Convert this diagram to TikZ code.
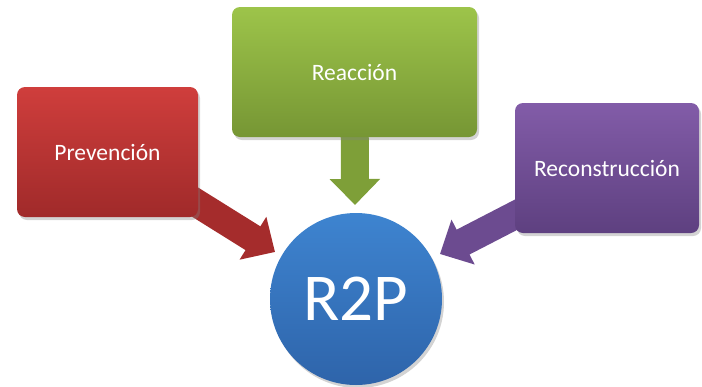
\documentclass[tikz,border=0pt]{standalone}
\usepackage{fontspec}
\setmainfont{Carlito}
\usepackage{tikz}
\usetikzlibrary{arrows.meta, shadows, backgrounds}
\definecolor{prevtop}{RGB}{207, 62, 60}
\definecolor{prevbot}{RGB}{160, 42, 42}
\definecolor{reactop}{RGB}{157, 196, 74}
\definecolor{reacbot}{RGB}{118, 150, 52}
\definecolor{recotop}{RGB}{130, 92, 168}
\definecolor{recobot}{RGB}{94, 64, 128}
\definecolor{r2ptop}{RGB}{62, 132, 208}
\definecolor{r2pbot}{RGB}{46, 100, 170}

\begin{document}
\begin{tikzpicture}[x=1pt, y=-1pt,
    phase/.style={rounded corners=8pt, minimum height=130pt,
        text=white, font=\fontsize{23.5}{26}\selectfont,
        drop shadow={opacity=0.35, shadow xshift=2pt, shadow yshift=-3pt}},
    blockarrow/.style={line width=28pt,
        -{Triangle[width=49pt, length=26pt]}}]
    \useasboundingbox (0,0) rectangle (702,386);
    % the three phases
    \node[phase, minimum width=181pt, top color=prevtop, bottom color=prevbot]
        (prev) at (107.5,152) {Prevención};
    \node[phase, minimum width=245pt, top color=reactop, bottom color=reacbot]
        (reac) at (354.5,72) {Reacción};
    \node[phase, minimum width=184pt, top color=recotop, bottom color=recobot]
        (reco) at (607,168) {Reconstrucción};
    % centre
    \node[circle, minimum size=172pt, inner sep=0pt, text=white,
        top color=r2ptop, bottom color=r2pbot,
        drop shadow={opacity=0.35, shadow xshift=2pt, shadow yshift=-3pt},
        font=\fontsize{67}{70}\selectfont]
        (r2p) at (356,299) {R2P};
    \coordinate (prevtip) at (275,252);
    \coordinate (reactip) at (355,205);
    \coordinate (recotip) at (440,254);
    \coordinate (prevfrom) at (150,174);
    \coordinate (recofrom) at (560,192);
    \begin{pgfonlayer}{background}
        \draw[blockarrow, prevbot!90!prevtop] (prevfrom) -- (prevtip);
        \draw[blockarrow, reacbot!80!reactop] (reac.center) -- (reactip);
        \draw[blockarrow, recobot!60!recotop] (recofrom) -- (recotip);
    \end{pgfonlayer}
\end{tikzpicture}
\end{document}
